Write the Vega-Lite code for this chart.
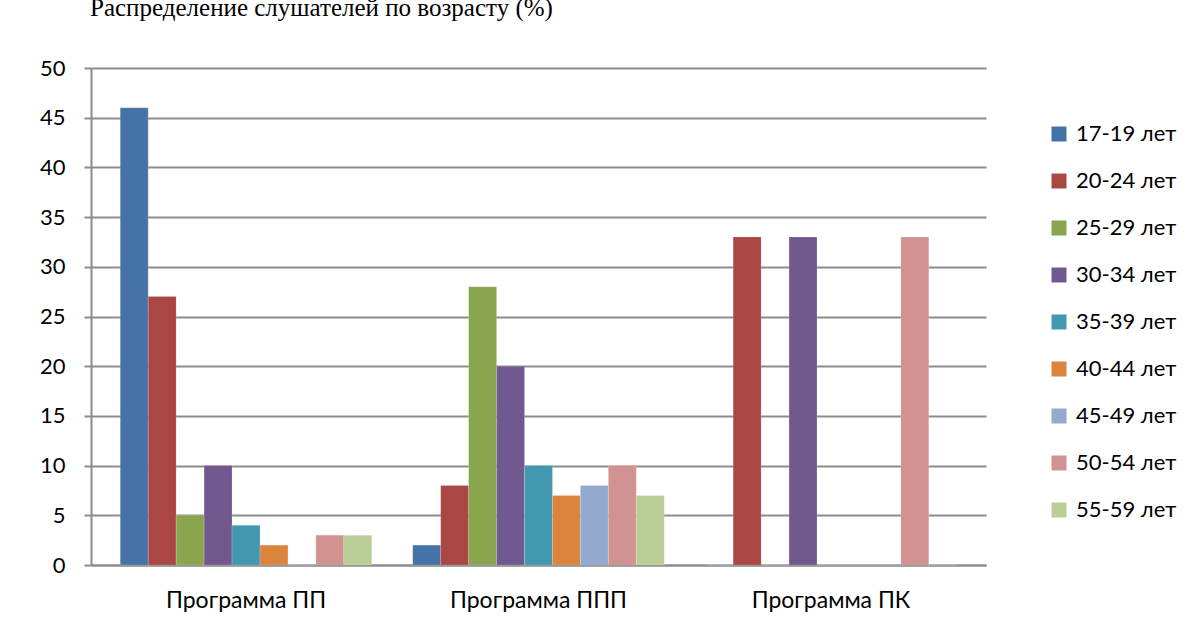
{
  "$schema": "https://vega.github.io/schema/vega-lite/v6.json",
  "width": 895,
  "height": 497,
  "autosize": "none",
  "padding": {"left": 91, "top": 68, "right": 204, "bottom": 65},
  "background": "white",
  "title": {
    "text": "Распределение слушателей по возрасту (%)",
    "anchor": "start",
    "frame": "group",
    "dx": -1,
    "offset": 36,
    "font": "Liberation Serif",
    "fontSize": 25,
    "fontWeight": "normal",
    "color": "#000000"
  },
  "data": {
    "values": [
      {"program": "Программа ПП", "age": "17-19 лет", "value": 46},
      {"program": "Программа ПП", "age": "20-24 лет", "value": 27},
      {"program": "Программа ПП", "age": "25-29 лет", "value": 5},
      {"program": "Программа ПП", "age": "30-34 лет", "value": 10},
      {"program": "Программа ПП", "age": "35-39 лет", "value": 4},
      {"program": "Программа ПП", "age": "40-44 лет", "value": 2},
      {"program": "Программа ПП", "age": "45-49 лет", "value": 0},
      {"program": "Программа ПП", "age": "50-54 лет", "value": 3},
      {"program": "Программа ПП", "age": "55-59 лет", "value": 3},
      {"program": "Программа ППП", "age": "17-19 лет", "value": 2},
      {"program": "Программа ППП", "age": "20-24 лет", "value": 8},
      {"program": "Программа ППП", "age": "25-29 лет", "value": 28},
      {"program": "Программа ППП", "age": "30-34 лет", "value": 20},
      {"program": "Программа ППП", "age": "35-39 лет", "value": 10},
      {"program": "Программа ППП", "age": "40-44 лет", "value": 7},
      {"program": "Программа ППП", "age": "45-49 лет", "value": 8},
      {"program": "Программа ППП", "age": "50-54 лет", "value": 10},
      {"program": "Программа ППП", "age": "55-59 лет", "value": 7},
      {"program": "Программа ПК", "age": "17-19 лет", "value": 0},
      {"program": "Программа ПК", "age": "20-24 лет", "value": 33},
      {"program": "Программа ПК", "age": "25-29 лет", "value": 0},
      {"program": "Программа ПК", "age": "30-34 лет", "value": 33},
      {"program": "Программа ПК", "age": "35-39 лет", "value": 0},
      {"program": "Программа ПК", "age": "40-44 лет", "value": 0},
      {"program": "Программа ПК", "age": "45-49 лет", "value": 0},
      {"program": "Программа ПК", "age": "50-54 лет", "value": 33},
      {"program": "Программа ПК", "age": "55-59 лет", "value": 0}
    ]
  },
  "mark": {"type": "bar", "stroke": "#ffffff", "strokeOpacity": 0.35, "strokeWidth": 0.5},
  "encoding": {
    "x": {
      "field": "program",
      "type": "nominal",
      "sort": ["Программа ПП", "Программа ППП", "Программа ПК"],
      "scale": {"paddingInner": 0.14, "paddingOuter": 0.1},
      "axis": {
        "title": null,
        "labelAngle": 0,
        "labelFont": "Lato",
        "labelFontSize": 23,
        "labelColor": "#000000",
        "labelPadding": 24,
        "ticks": false,
        "domainColor": "#8c8c8c",
        "domainWidth": 2
      }
    },
    "xOffset": {
      "field": "age",
      "type": "nominal",
      "sort": ["17-19 лет", "20-24 лет", "25-29 лет", "30-34 лет", "35-39 лет", "40-44 лет", "45-49 лет", "50-54 лет", "55-59 лет"]
    },
    "y": {
      "field": "value",
      "type": "quantitative",
      "scale": {"domain": [0, 50], "nice": false},
      "axis": {
        "title": null,
        "values": [0, 5, 10, 15, 20, 25, 30, 35, 40, 45, 50],
        "labelFont": "Lato",
        "labelFontSize": 22,
        "labelColor": "#000000",
        "labelPadding": 19,
        "tickColor": "#8c8c8c",
        "tickWidth": 2,
        "tickSize": 7,
        "domainColor": "#8c8c8c",
        "domainWidth": 2,
        "grid": true,
        "gridColor": "#8c8c8c",
        "gridWidth": 2
      }
    },
    "color": {
      "field": "age",
      "type": "nominal",
      "sort": ["17-19 лет", "20-24 лет", "25-29 лет", "30-34 лет", "35-39 лет", "40-44 лет", "45-49 лет", "50-54 лет", "55-59 лет"],
      "scale": {
        "domain": ["17-19 лет", "20-24 лет", "25-29 лет", "30-34 лет", "35-39 лет", "40-44 лет", "45-49 лет", "50-54 лет", "55-59 лет"],
        "range": ["#4572A7", "#AA4643", "#89A54E", "#71588F", "#4198AF", "#DB843D", "#93A9CF", "#D19392", "#B9CD96"]
      },
      "legend": {
        "title": null,
        "orient": "none",
        "legendX": 957,
        "legendY": 55,
        "symbolType": "square",
        "symbolSize": 225,
        "symbolStrokeWidth": 0,
        "labelFont": "Lato",
        "labelFontSize": 22,
        "labelColor": "#000000",
        "labelOffset": 6,
        "rowPadding": 25
      }
    }
  },
  "config": {
    "view": {"stroke": null}
  }
}
